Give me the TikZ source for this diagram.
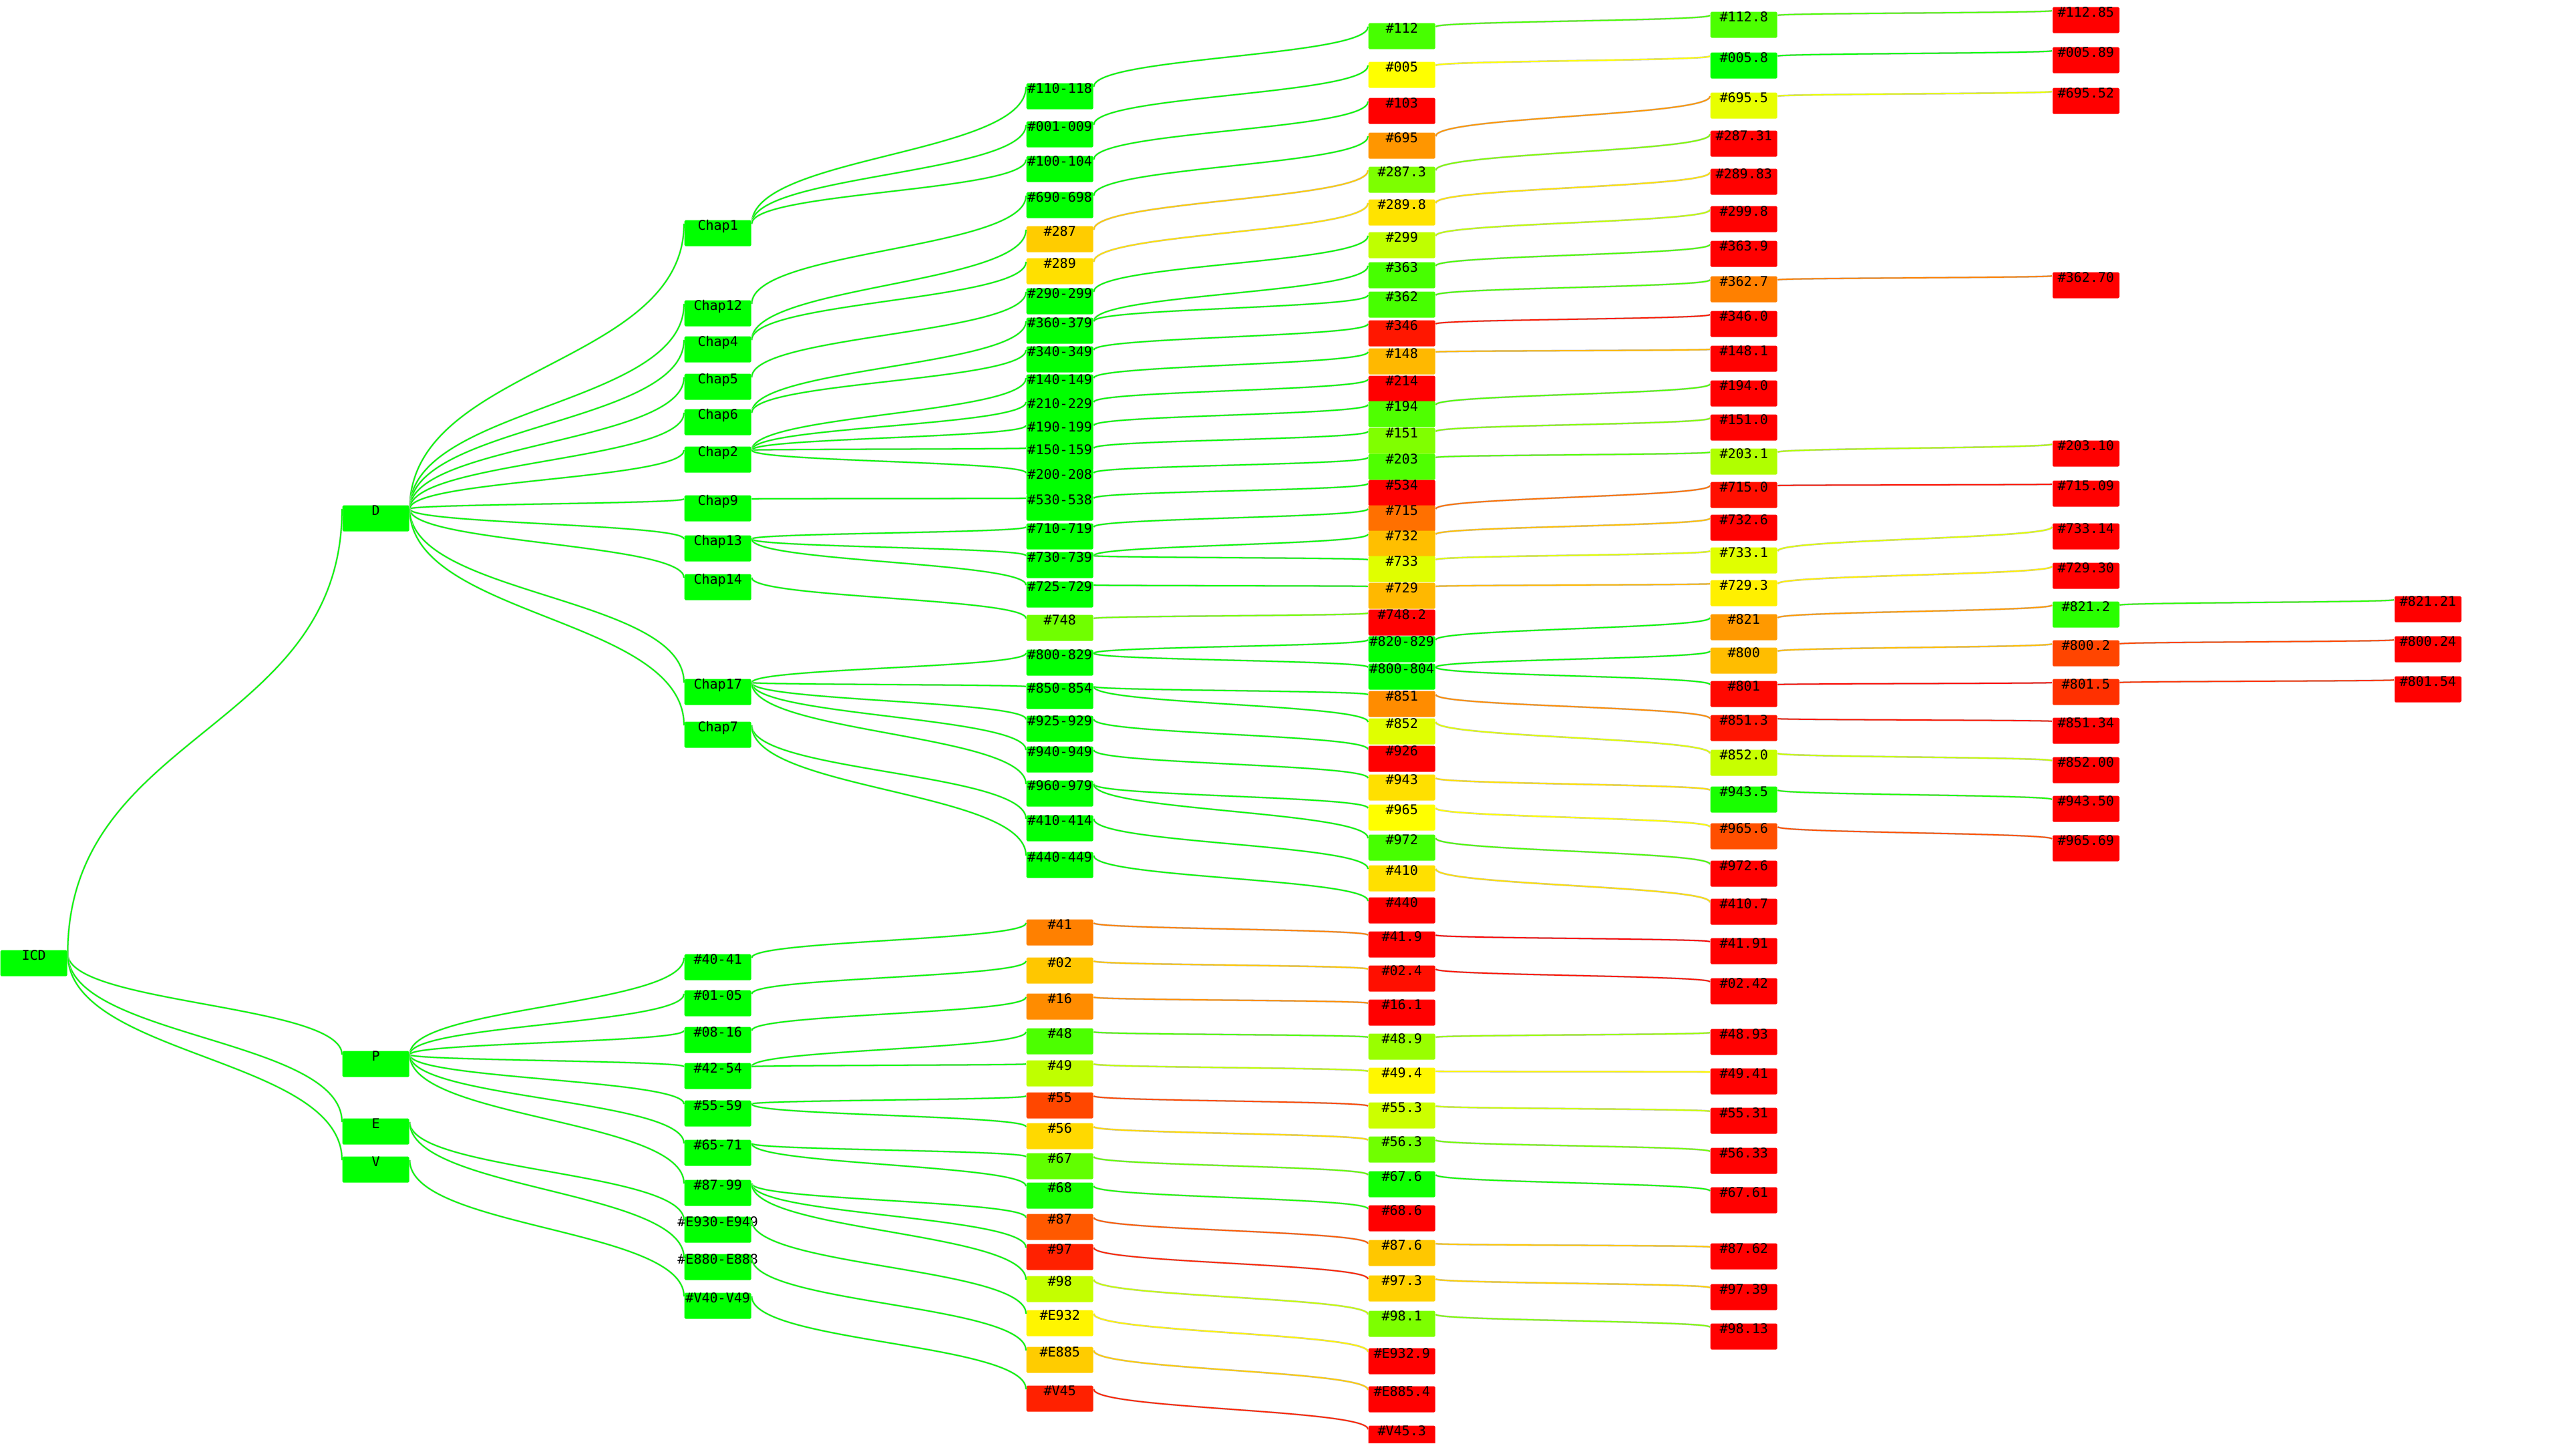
\documentclass[tikz,border=0pt]{standalone}
\usepackage{fontspec}
\usetikzlibrary{calc}
\newfontfamily\codefont{DejaVu Sans Mono}
\definecolor{bad}{HTML}{FF0000}
\definecolor{fair}{HTML}{FFFF00}
\definecolor{good}{HTML}{00FF00}

% node: name, x, y (down), fill, label
\newcommand{\icdnode}[5]{%
  \colorlet{col#1}{#4}%
  \node[icdbox, fill=col#1] (#1) at (#2,-#3) {\makebox[1cm]{#5}};}
% link in the colour of its parent
\newcommand{\icdlink}[2]{%
  \path ([yshift=-0.06cm]#1.north east) coordinate (s)
        ([yshift=-0.06cm]#2.north west) coordinate (t)
        ($(s)!0.5!(t)$) coordinate (m);
  \draw[linkshadow] (s) .. controls (s |- m) and (t |- m) .. (t);
  \draw[branchline, col#1] (s) .. controls (s |- m) and (t |- m) .. (t);}

\begin{document}
\begin{tikzpicture}[icdbox/.style={anchor=north west, rectangle, rounded corners=0.5pt, inner sep=0pt, minimum width=1cm, text height=0.15cm, text depth=0.24cm, font=\codefont\fontsize{5.7pt}{6pt}\selectfont},
  branchline/.style={line width=0.5pt},
  linkshadow/.style={draw=gray!45, line width=0.8pt, yshift=0.25pt}]
  \useasboundingbox (0,0) rectangle (38.4,-21.8);
  \clip (0,0) rectangle (38.4,-21.6);
  % Column 0
  \icdnode{icd}{0}{14.22}{good}{ICD}
  % Column 1
  \icdnode{D}{5.12}{7.56}{good}{D}
  \icdnode{P}{5.12}{15.73}{good}{P}
  \icdnode{E}{5.12}{16.74}{good}{E}
  \icdnode{V}{5.12}{17.31}{good}{V}
  % Column 2
  \icdnode{ch1}{10.24}{3.29}{good}{Chap1}
  \icdnode{ch12}{10.24}{4.49}{good}{Chap12}
  \icdnode{ch4}{10.24}{5.03}{good}{Chap4}
  \icdnode{ch5}{10.24}{5.59}{good}{Chap5}
  \icdnode{ch6}{10.24}{6.12}{good}{Chap6}
  \icdnode{ch2}{10.24}{6.68}{good}{Chap2}
  \icdnode{ch9}{10.24}{7.41}{good}{Chap9}
  \icdnode{ch13}{10.24}{8.01}{good}{Chap13}
  \icdnode{ch14}{10.24}{8.59}{good}{Chap14}
  \icdnode{ch17}{10.24}{10.16}{good}{Chap17}
  \icdnode{ch7}{10.24}{10.80}{good}{Chap7}
  \icdnode{r40t41}{10.24}{14.28}{good}{\#40-41}
  \icdnode{r01t05}{10.24}{14.82}{good}{\#01-05}
  \icdnode{r08t16}{10.24}{15.37}{good}{\#08-16}
  \icdnode{r42t54}{10.24}{15.91}{good}{\#42-54}
  \icdnode{r55t59}{10.24}{16.47}{good}{\#55-59}
  \icdnode{r65t71}{10.24}{17.06}{good}{\#65-71}
  \icdnode{r87t99}{10.24}{17.66}{good}{\#87-99}
  \icdnode{rE930tE949}{10.24}{18.21}{good}{\#E930-E949}
  \icdnode{rE880tE888}{10.24}{18.77}{good}{\#E880-E888}
  \icdnode{rV40tV49}{10.24}{19.35}{good}{\#V40-V49}
  % Column 3
  \icdnode{r110t118}{15.36}{1.24}{good}{\#110-118}
  \icdnode{r001t009}{15.36}{1.81}{good}{\#001-009}
  \icdnode{r100t104}{15.36}{2.33}{good}{\#100-104}
  \icdnode{r690t698}{15.36}{2.87}{good}{\#690-698}
  \icdnode{c287}{15.36}{3.38}{fair!80!bad}{\#287}
  \icdnode{c289}{15.36}{3.86}{fair!88!bad}{\#289}
  \icdnode{r290t299}{15.36}{4.31}{good}{\#290-299}
  \icdnode{r360t379}{15.36}{4.75}{good}{\#360-379}
  \icdnode{r340t349}{15.36}{5.18}{good}{\#340-349}
  \icdnode{r140t149}{15.36}{5.60}{good}{\#140-149}
  \icdnode{r210t229}{15.36}{5.96}{good}{\#210-229}
  \icdnode{r190t199}{15.36}{6.31}{good}{\#190-199}
  \icdnode{r150t159}{15.36}{6.65}{good}{\#150-159}
  \icdnode{r200t208}{15.36}{7.02}{good}{\#200-208}
  \icdnode{r530t538}{15.36}{7.40}{good}{\#530-538}
  \icdnode{r710t719}{15.36}{7.83}{good}{\#710-719}
  \icdnode{r730t739}{15.36}{8.26}{good}{\#730-739}
  \icdnode{r725t729}{15.36}{8.70}{good}{\#725-729}
  \icdnode{c748}{15.36}{9.20}{fair!44!good}{\#748}
  \icdnode{r800t829}{15.36}{9.72}{good}{\#800-829}
  \icdnode{r850t854}{15.36}{10.22}{good}{\#850-854}
  \icdnode{r925t929}{15.36}{10.71}{good}{\#925-929}
  \icdnode{r940t949}{15.36}{11.17}{good}{\#940-949}
  \icdnode{r960t979}{15.36}{11.68}{good}{\#960-979}
  \icdnode{r410t414}{15.36}{12.20}{good}{\#410-414}
  \icdnode{r440t449}{15.36}{12.75}{good}{\#440-449}
  \icdnode{c41}{15.36}{13.76}{fair!50!bad}{\#41}
  \icdnode{c02}{15.36}{14.33}{fair!78!bad}{\#02}
  \icdnode{c16}{15.36}{14.87}{fair!55!bad}{\#16}
  \icdnode{c48}{15.36}{15.39}{fair!30!good}{\#48}
  \icdnode{c49}{15.36}{15.87}{fair!75!good}{\#49}
  \icdnode{c55}{15.36}{16.35}{fair!28!bad}{\#55}
  \icdnode{c56}{15.36}{16.81}{fair!85!bad}{\#56}
  \icdnode{c67}{15.36}{17.26}{fair!38!good}{\#67}
  \icdnode{c68}{15.36}{17.70}{fair!10!good}{\#68}
  \icdnode{c87}{15.36}{18.17}{fair!35!bad}{\#87}
  \icdnode{c97}{15.36}{18.62}{fair!13!bad}{\#97}
  \icdnode{c98}{15.36}{19.10}{fair!77!good}{\#98}
  \icdnode{cE932}{15.36}{19.61}{fair!96!bad}{\#E932}
  \icdnode{cE885}{15.36}{20.16}{fair!80!bad}{\#E885}
  \icdnode{cV45}{15.36}{20.74}{fair!13!bad}{\#V45}
  % Column 4
  \icdnode{c112}{20.48}{0.34}{fair!28!good}{\#112}
  \icdnode{c005}{20.48}{0.92}{fair}{\#005}
  \icdnode{c103}{20.48}{1.46}{bad}{\#103}
  \icdnode{c695}{20.48}{1.98}{fair!59!bad}{\#695}
  \icdnode{c287p3}{20.48}{2.49}{fair!49!good}{\#287.3}
  \icdnode{c289p8}{20.48}{2.98}{fair!89!bad}{\#289.8}
  \icdnode{c299}{20.48}{3.47}{fair!75!good}{\#299}
  \icdnode{c363}{20.48}{3.92}{fair!28!good}{\#363}
  \icdnode{c362}{20.48}{4.36}{fair!28!good}{\#362}
  \icdnode{c346}{20.48}{4.79}{fair!9!bad}{\#346}
  \icdnode{c148}{20.48}{5.21}{fair!72!bad}{\#148}
  \icdnode{c214}{20.48}{5.62}{bad}{\#214}
  \icdnode{c194}{20.48}{6.00}{fair!31!good}{\#194}
  \icdnode{c151}{20.48}{6.40}{fair!50!good}{\#151}
  \icdnode{c203}{20.48}{6.79}{fair!31!good}{\#203}
  \icdnode{c534}{20.48}{7.18}{bad}{\#534}
  \icdnode{c715}{20.48}{7.56}{fair!44!bad}{\#715}
  \icdnode{c732}{20.48}{7.94}{fair!75!bad}{\#732}
  \icdnode{c733}{20.48}{8.32}{fair!88!good}{\#733}
  \icdnode{c729}{20.48}{8.72}{fair!72!bad}{\#729}
  \icdnode{c748p2}{20.48}{9.12}{bad}{\#748.2}
  \icdnode{r820t829}{20.48}{9.52}{good}{\#820-829}
  \icdnode{r800t804}{20.48}{9.93}{good}{\#800-804}
  \icdnode{c851}{20.48}{10.34}{fair!55!bad}{\#851}
  \icdnode{c852}{20.48}{10.75}{fair!88!good}{\#852}
  \icdnode{c926}{20.48}{11.16}{bad}{\#926}
  \icdnode{c943}{20.48}{11.59}{fair!88!bad}{\#943}
  \icdnode{c965}{20.48}{12.04}{fair}{\#965}
  \icdnode{c972}{20.48}{12.49}{fair!28!good}{\#972}
  \icdnode{c410}{20.48}{12.95}{fair!88!bad}{\#410}
  \icdnode{c440}{20.48}{13.43}{bad}{\#440}
  \icdnode{c41p9}{20.48}{13.94}{bad}{\#41.9}
  \icdnode{c02p4}{20.48}{14.45}{fair!6!bad}{\#02.4}
  \icdnode{c16p1}{20.48}{14.96}{bad}{\#16.1}
  \icdnode{c48p9}{20.48}{15.47}{fair!60!good}{\#48.9}
  \icdnode{c49p4}{20.48}{15.98}{fair!97!bad}{\#49.4}
  \icdnode{c55p3}{20.48}{16.50}{fair!80!good}{\#55.3}
  \icdnode{c56p3}{20.48}{17.01}{fair!44!good}{\#56.3}
  \icdnode{c67p6}{20.48}{17.53}{fair!6!good}{\#67.6}
  \icdnode{c68p6}{20.48}{18.04}{bad}{\#68.6}
  \icdnode{c87p6}{20.48}{18.56}{fair!78!bad}{\#87.6}
  \icdnode{c97p3}{20.48}{19.09}{fair!82!bad}{\#97.3}
  \icdnode{c98p1}{20.48}{19.62}{fair!49!good}{\#98.1}
  \icdnode{cE932p9}{20.48}{20.18}{bad}{\#E932.9}
  \icdnode{cE885p4}{20.48}{20.75}{bad}{\#E885.4}
  \icdnode{cV45p3}{20.48}{21.34}{bad}{\#V45.3}
  % Column 5
  \icdnode{c112p8}{25.60}{0.17}{fair!30!good}{\#112.8}
  \icdnode{c005p8}{25.60}{0.78}{good}{\#005.8}
  \icdnode{c695p5}{25.60}{1.38}{fair!91!good}{\#695.5}
  \icdnode{c287p31}{25.60}{1.95}{bad}{\#287.31}
  \icdnode{c289p83}{25.60}{2.52}{bad}{\#289.83}
  \icdnode{c299p8}{25.60}{3.08}{bad}{\#299.8}
  \icdnode{c363p9}{25.60}{3.60}{bad}{\#363.9}
  \icdnode{c362p7}{25.60}{4.13}{fair!50!bad}{\#362.7}
  \icdnode{c346p0}{25.60}{4.65}{bad}{\#346.0}
  \icdnode{c148p1}{25.60}{5.17}{bad}{\#148.1}
  \icdnode{c194p0}{25.60}{5.69}{bad}{\#194.0}
  \icdnode{c151p0}{25.60}{6.20}{bad}{\#151.0}
  \icdnode{c203p1}{25.60}{6.71}{fair!69!good}{\#203.1}
  \icdnode{c715p0}{25.60}{7.21}{fair!6!bad}{\#715.0}
  \icdnode{c732p6}{25.60}{7.70}{bad}{\#732.6}
  \icdnode{c733p1}{25.60}{8.19}{fair!88!good}{\#733.1}
  \icdnode{c729p3}{25.60}{8.68}{fair!94!bad}{\#729.3}
  \icdnode{c821}{25.60}{9.19}{fair!60!bad}{\#821}
  \icdnode{c800}{25.60}{9.69}{fair!74!bad}{\#800}
  \icdnode{c801}{25.60}{10.19}{fair!3!bad}{\#801}
  \icdnode{c851p3}{25.60}{10.70}{fair!8!bad}{\#851.3}
  \icdnode{c852p0}{25.60}{11.22}{fair!78!good}{\#852.0}
  \icdnode{c943p5}{25.60}{11.77}{fair!10!good}{\#943.5}
  \icdnode{c965p6}{25.60}{12.32}{fair!31!bad}{\#965.6}
  \icdnode{c972p6}{25.60}{12.88}{bad}{\#972.6}
  \icdnode{c410p7}{25.60}{13.45}{bad}{\#410.7}
  \icdnode{c41p91}{25.60}{14.04}{bad}{\#41.91}
  \icdnode{c02p42}{25.60}{14.64}{bad}{\#02.42}
  \icdnode{c48p93}{25.60}{15.40}{bad}{\#48.93}
  \icdnode{c49p41}{25.60}{15.99}{bad}{\#49.41}
  \icdnode{c55p31}{25.60}{16.58}{bad}{\#55.31}
  \icdnode{c56p33}{25.60}{17.18}{bad}{\#56.33}
  \icdnode{c67p61}{25.60}{17.77}{bad}{\#67.61}
  \icdnode{c87p62}{25.60}{18.61}{bad}{\#87.62}
  \icdnode{c97p39}{25.60}{19.22}{bad}{\#97.39}
  \icdnode{c98p13}{25.60}{19.81}{bad}{\#98.13}
  % Column 6
  \icdnode{c112p85}{30.72}{0.10}{bad}{\#112.85}
  \icdnode{c005p89}{30.72}{0.70}{bad}{\#005.89}
  \icdnode{c695p52}{30.72}{1.31}{bad}{\#695.52}
  \icdnode{c362p70}{30.72}{4.07}{bad}{\#362.70}
  \icdnode{c203p10}{30.72}{6.59}{bad}{\#203.10}
  \icdnode{c715p09}{30.72}{7.19}{bad}{\#715.09}
  \icdnode{c733p14}{30.72}{7.83}{bad}{\#733.14}
  \icdnode{c729p30}{30.72}{8.42}{bad}{\#729.30}
  \icdnode{c821p2}{30.72}{9.00}{fair!16!good}{\#821.2}
  \icdnode{c800p2}{30.72}{9.58}{fair!27!bad}{\#800.2}
  \icdnode{c801p5}{30.72}{10.16}{fair!19!bad}{\#801.5}
  \icdnode{c851p34}{30.72}{10.74}{bad}{\#851.34}
  \icdnode{c852p00}{30.72}{11.33}{bad}{\#852.00}
  \icdnode{c943p50}{30.72}{11.91}{bad}{\#943.50}
  \icdnode{c965p69}{30.72}{12.50}{bad}{\#965.69}
  % Column 7
  \icdnode{c821p21}{35.84}{8.92}{bad}{\#821.21}
  \icdnode{c800p24}{35.84}{9.52}{bad}{\#800.24}
  \icdnode{c801p54}{35.84}{10.12}{bad}{\#801.54}
  % Links 0-1
  \icdlink{icd}{D} \icdlink{icd}{P} \icdlink{icd}{E} \icdlink{icd}{V}
  % Links 1-2
  \icdlink{D}{ch1} \icdlink{D}{ch12} \icdlink{D}{ch4} \icdlink{D}{ch5}
  \icdlink{D}{ch6} \icdlink{D}{ch2} \icdlink{D}{ch9} \icdlink{D}{ch13}
  \icdlink{D}{ch14} \icdlink{D}{ch17} \icdlink{D}{ch7}
  \icdlink{P}{r40t41} \icdlink{P}{r01t05} \icdlink{P}{r08t16} \icdlink{P}{r42t54}
  \icdlink{P}{r55t59} \icdlink{P}{r65t71} \icdlink{P}{r87t99}
  \icdlink{E}{rE930tE949} \icdlink{E}{rE880tE888}
  \icdlink{V}{rV40tV49}
  % Links 2-3
  \icdlink{ch1}{r110t118} \icdlink{ch1}{r001t009} \icdlink{ch1}{r100t104}
  \icdlink{ch12}{r690t698}
  \icdlink{ch4}{c287} \icdlink{ch4}{c289}
  \icdlink{ch5}{r290t299}
  \icdlink{ch6}{r360t379} \icdlink{ch6}{r340t349}
  \icdlink{ch2}{r140t149} \icdlink{ch2}{r210t229} \icdlink{ch2}{r190t199}
  \icdlink{ch2}{r150t159} \icdlink{ch2}{r200t208}
  \icdlink{ch9}{r530t538}
  \icdlink{ch13}{r710t719} \icdlink{ch13}{r730t739} \icdlink{ch13}{r725t729}
  \icdlink{ch14}{c748}
  \icdlink{ch17}{r800t829} \icdlink{ch17}{r850t854} \icdlink{ch17}{r925t929}
  \icdlink{ch17}{r940t949} \icdlink{ch17}{r960t979}
  \icdlink{ch7}{r410t414} \icdlink{ch7}{r440t449}
  \icdlink{r40t41}{c41} \icdlink{r01t05}{c02} \icdlink{r08t16}{c16}
  \icdlink{r42t54}{c48} \icdlink{r42t54}{c49}
  \icdlink{r55t59}{c55} \icdlink{r55t59}{c56}
  \icdlink{r65t71}{c67} \icdlink{r65t71}{c68}
  \icdlink{r87t99}{c87} \icdlink{r87t99}{c97} \icdlink{r87t99}{c98}
  \icdlink{rE930tE949}{cE932} \icdlink{rE880tE888}{cE885} \icdlink{rV40tV49}{cV45}
  % Links 3-4
  \icdlink{r110t118}{c112} \icdlink{r001t009}{c005} \icdlink{r100t104}{c103}
  \icdlink{r690t698}{c695} \icdlink{c287}{c287p3} \icdlink{c289}{c289p8}
  \icdlink{r290t299}{c299} \icdlink{r360t379}{c363} \icdlink{r360t379}{c362}
  \icdlink{r340t349}{c346} \icdlink{r140t149}{c148} \icdlink{r210t229}{c214}
  \icdlink{r190t199}{c194} \icdlink{r150t159}{c151} \icdlink{r200t208}{c203}
  \icdlink{r530t538}{c534} \icdlink{r710t719}{c715}
  \icdlink{r730t739}{c732} \icdlink{r730t739}{c733} \icdlink{r725t729}{c729}
  \icdlink{c748}{c748p2}
  \icdlink{r800t829}{r820t829} \icdlink{r800t829}{r800t804}
  \icdlink{r850t854}{c851} \icdlink{r850t854}{c852}
  \icdlink{r925t929}{c926} \icdlink{r940t949}{c943}
  \icdlink{r960t979}{c965} \icdlink{r960t979}{c972}
  \icdlink{r410t414}{c410} \icdlink{r440t449}{c440}
  \icdlink{c41}{c41p9} \icdlink{c02}{c02p4} \icdlink{c16}{c16p1}
  \icdlink{c48}{c48p9} \icdlink{c49}{c49p4} \icdlink{c55}{c55p3}
  \icdlink{c56}{c56p3} \icdlink{c67}{c67p6} \icdlink{c68}{c68p6}
  \icdlink{c87}{c87p6} \icdlink{c97}{c97p3} \icdlink{c98}{c98p1}
  \icdlink{cE932}{cE932p9} \icdlink{cE885}{cE885p4} \icdlink{cV45}{cV45p3}
  % Links 4-5
  \icdlink{c112}{c112p8} \icdlink{c005}{c005p8} \icdlink{c695}{c695p5}
  \icdlink{c287p3}{c287p31} \icdlink{c289p8}{c289p83} \icdlink{c299}{c299p8}
  \icdlink{c363}{c363p9} \icdlink{c362}{c362p7} \icdlink{c346}{c346p0}
  \icdlink{c148}{c148p1} \icdlink{c194}{c194p0} \icdlink{c151}{c151p0}
  \icdlink{c203}{c203p1} \icdlink{c715}{c715p0} \icdlink{c732}{c732p6}
  \icdlink{c733}{c733p1} \icdlink{c729}{c729p3}
  \icdlink{r820t829}{c821} \icdlink{r800t804}{c800} \icdlink{r800t804}{c801}
  \icdlink{c851}{c851p3} \icdlink{c852}{c852p0} \icdlink{c943}{c943p5}
  \icdlink{c965}{c965p6} \icdlink{c972}{c972p6} \icdlink{c410}{c410p7}
  \icdlink{c41p9}{c41p91} \icdlink{c02p4}{c02p42} \icdlink{c48p9}{c48p93}
  \icdlink{c49p4}{c49p41} \icdlink{c55p3}{c55p31} \icdlink{c56p3}{c56p33}
  \icdlink{c67p6}{c67p61} \icdlink{c87p6}{c87p62} \icdlink{c97p3}{c97p39}
  \icdlink{c98p1}{c98p13}
  % Links 5-6
  \icdlink{c112p8}{c112p85} \icdlink{c005p8}{c005p89} \icdlink{c695p5}{c695p52}
  \icdlink{c362p7}{c362p70} \icdlink{c203p1}{c203p10} \icdlink{c715p0}{c715p09}
  \icdlink{c733p1}{c733p14} \icdlink{c729p3}{c729p30} \icdlink{c821}{c821p2}
  \icdlink{c800}{c800p2} \icdlink{c801}{c801p5} \icdlink{c851p3}{c851p34}
  \icdlink{c852p0}{c852p00} \icdlink{c943p5}{c943p50} \icdlink{c965p6}{c965p69}
  % Links 6-7
  \icdlink{c821p2}{c821p21} \icdlink{c800p2}{c800p24} \icdlink{c801p5}{c801p54}
\end{tikzpicture}
\end{document}
